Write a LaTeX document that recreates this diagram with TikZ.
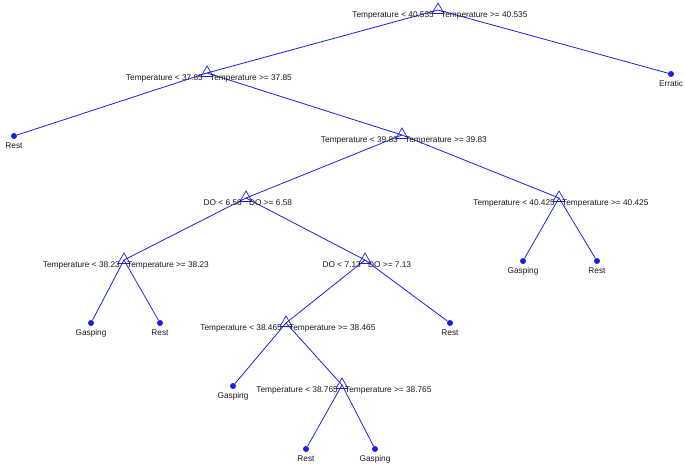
\documentclass[tikz,border=0pt]{standalone}
\usepackage{fontspec}
\setmainfont{Liberation Sans}
\usepackage{tikz}
\usetikzlibrary{shapes.geometric,positioning}

\definecolor{treeblue}{RGB}{30,30,225}

\tikzset{
  split/.style={draw=treeblue,regular polygon,regular polygon sides=3,
    minimum size=14pt,inner sep=0pt,line width=0.7pt},
  leaf/.style={circle,fill=treeblue,inner sep=0pt,minimum size=6pt},
  edge/.style={draw=treeblue,line width=0.8pt},
  lbl/.style={inner sep=0pt,font=\fontsize{8.3}{10}\selectfont,text=black!90}
}

\begin{document}
\begin{tikzpicture}[x=1pt,y=-1pt]
  \useasboundingbox (0,0) rectangle (685,465);
  % split nodes
  \node[split] (t1) at (438,10) {};
  \node[split] (t2) at (207,73) {};
  \node[split] (t3) at (402,135) {};
  \node[split] (t4) at (246,198) {};
  \node[split] (t5) at (559,198) {};
  \node[split] (t6) at (124,260) {};
  \node[split] (t7) at (365,260) {};
  \node[split] (t8) at (286,323) {};
  \node[split] (t9) at (342,385) {};
  % leaves
  \node[leaf] (erratic) at (671,74) {};
  \node[leaf] (rest1) at (14,136) {};
  \node[leaf] (gasp1) at (523,261) {};
  \node[leaf] (rest2) at (597,261) {};
  \node[leaf] (gasp2) at (91,323) {};
  \node[leaf] (rest3) at (160,323) {};
  \node[leaf] (rest4) at (450,323) {};
  \node[leaf] (gasp3) at (233,386) {};
  \node[leaf] (rest5) at (306,449) {};
  \node[leaf] (gasp4) at (375,449) {};
  % branches
  \draw[edge] (t1.center) -- (t2.center);
  \draw[edge] (t1.center) -- (erratic);
  \draw[edge] (t2.center) -- (rest1);
  \draw[edge] (t2.center) -- (t3.center);
  \draw[edge] (t3.center) -- (t4.center);
  \draw[edge] (t3.center) -- (t5.center);
  \draw[edge] (t4.center) -- (t6.center);
  \draw[edge] (t4.center) -- (t7.center);
  \draw[edge] (t5.center) -- (gasp1);
  \draw[edge] (t5.center) -- (rest2);
  \draw[edge] (t6.center) -- (gasp2);
  \draw[edge] (t6.center) -- (rest3);
  \draw[edge] (t7.center) -- (t8.center);
  \draw[edge] (t7.center) -- (rest4);
  \draw[edge] (t8.center) -- (gasp3);
  \draw[edge] (t8.center) -- (t9.center);
  \draw[edge] (t9.center) -- (rest5);
  \draw[edge] (t9.center) -- (gasp4);
  % split rules
  \node[lbl,anchor=east] (t1l) at ([xshift=-4pt,yshift=-5pt]t1.center) {Temperature < 40.535};
  \node[lbl,anchor=west] (t1r) at ([xshift=3pt,yshift=-5pt]t1.center) {Temperature >= 40.535};
  \node[lbl,anchor=east] (t2l) at ([xshift=-4pt,yshift=-5pt]t2.center) {Temperature < 37.85};
  \node[lbl,anchor=west] (t2r) at ([xshift=3pt,yshift=-5pt]t2.center) {Temperature >= 37.85};
  \node[lbl,anchor=east] (t3l) at ([xshift=-4pt,yshift=-5pt]t3.center) {Temperature < 39.83};
  \node[lbl,anchor=west] (t3r) at ([xshift=3pt,yshift=-5pt]t3.center) {Temperature >= 39.83};
  \node[lbl,anchor=east] (t4l) at ([xshift=-4pt,yshift=-5pt]t4.center) {DO < 6.58};
  \node[lbl,anchor=west] (t4r) at ([xshift=3pt,yshift=-5pt]t4.center) {DO >= 6.58};
  \node[lbl,anchor=east] (t5l) at ([xshift=-4pt,yshift=-5pt]t5.center) {Temperature < 40.425};
  \node[lbl,anchor=west] (t5r) at ([xshift=3pt,yshift=-5pt]t5.center) {Temperature >= 40.425};
  \node[lbl,anchor=east] (t6l) at ([xshift=-4pt,yshift=-5pt]t6.center) {Temperature < 38.23};
  \node[lbl,anchor=west] (t6r) at ([xshift=3pt,yshift=-5pt]t6.center) {Temperature >= 38.23};
  \node[lbl,anchor=east] (t7l) at ([xshift=-4pt,yshift=-5pt]t7.center) {DO < 7.13};
  \node[lbl,anchor=west] (t7r) at ([xshift=3pt,yshift=-5pt]t7.center) {DO >= 7.13};
  \node[lbl,anchor=east] (t8l) at ([xshift=-4pt,yshift=-5pt]t8.center) {Temperature < 38.465};
  \node[lbl,anchor=west] (t8r) at ([xshift=3pt,yshift=-5pt]t8.center) {Temperature >= 38.465};
  \node[lbl,anchor=east] (t9l) at ([xshift=-4pt,yshift=-5pt]t9.center) {Temperature < 38.765};
  \node[lbl,anchor=west] (t9r) at ([xshift=3pt,yshift=-5pt]t9.center) {Temperature >= 38.765};
  % leaf classes
  \node[lbl,below=3pt of erratic] {Erratic};
  \node[lbl,below=3pt of rest1] {Rest};
  \node[lbl,below=3pt of gasp1] {Gasping};
  \node[lbl,below=3pt of rest2] {Rest};
  \node[lbl,below=3pt of gasp2] {Gasping};
  \node[lbl,below=3pt of rest3] {Rest};
  \node[lbl,below=3pt of rest4] {Rest};
  \node[lbl,below=3pt of gasp3] {Gasping};
  \node[lbl,below=3pt of rest5] {Rest};
  \node[lbl,below=3pt of gasp4] {Gasping};
\end{tikzpicture}
\end{document}
